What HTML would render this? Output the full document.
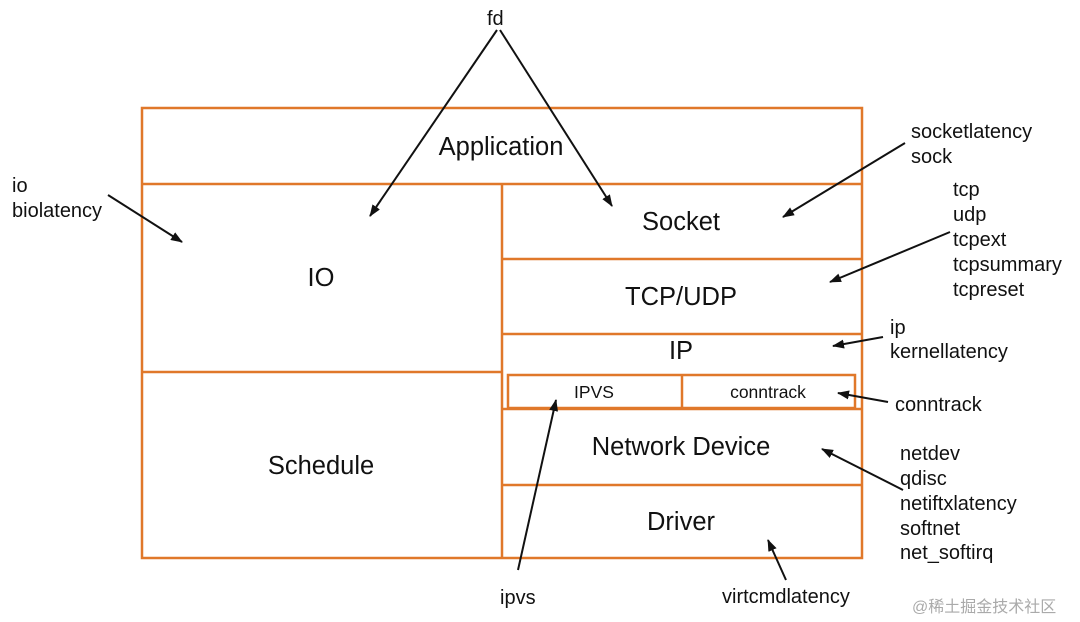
<!DOCTYPE html>
<html><head><meta charset="utf-8"><style>
html,body{margin:0;padding:0;background:#fff;}
svg{display:block;}
text{font-family:"Liberation Sans","Noto Sans CJK SC",sans-serif;fill:#111;}
</style></head><body>
<svg width="1080" height="622" viewBox="0 0 1080 622" xmlns="http://www.w3.org/2000/svg">
<defs><marker id="a" markerWidth="12" markerHeight="9" refX="11" refY="4.5" orient="auto" markerUnits="userSpaceOnUse"><path d="M0,0 L12,4.5 L0,9 z" fill="#111"/></marker></defs>
<g fill="none" stroke="#e0782a" stroke-width="2.5">
<rect x="142" y="108" width="720" height="450"/>
<line x1="142" y1="184" x2="862" y2="184"/>
<line x1="502" y1="184" x2="502" y2="558"/>
<line x1="142" y1="372" x2="502" y2="372"/>
<line x1="502" y1="259" x2="862" y2="259"/>
<line x1="502" y1="334" x2="862" y2="334"/>
<line x1="502" y1="409" x2="862" y2="409"/>
<line x1="502" y1="485" x2="862" y2="485"/>
<rect x="508" y="375" width="347" height="33"/>
<line x1="682" y1="375" x2="682" y2="408"/>
</g>
<g font-size="25.5" text-anchor="middle">
<text x="501" y="155">Application</text>
<text x="321" y="286">IO</text>
<text x="321" y="474">Schedule</text>
<text x="681" y="230">Socket</text>
<text x="681" y="305">TCP/UDP</text>
<text x="681" y="359">IP</text>
<text x="681" y="455">Network Device</text>
<text x="681" y="530">Driver</text>
</g>
<g font-size="17.5" text-anchor="middle">
<text x="594" y="398">IPVS</text>
<text x="768" y="398">conntrack</text>
</g>
<g font-size="20">
<text x="487" y="25">fd</text>
<text x="12" y="192">io</text><text x="12" y="217">biolatency</text>
<text x="911" y="138">socketlatency</text><text x="911" y="163">sock</text>
<text x="953" y="196">tcp</text><text x="953" y="221">udp</text><text x="953" y="246">tcpext</text><text x="953" y="271">tcpsummary</text><text x="953" y="296">tcpreset</text>
<text x="890" y="334">ip</text><text x="890" y="358">kernellatency</text>
<text x="895" y="411">conntrack</text>
<text x="900" y="460">netdev</text><text x="900" y="485">qdisc</text><text x="900" y="510">netiftxlatency</text><text x="900" y="535">softnet</text><text x="900" y="559">net_softirq</text>
<text x="500" y="604">ipvs</text>
<text x="722" y="603">virtcmdlatency</text>
</g>
<text x="912" y="612" font-size="16" style="fill:#aaa">@稀土掘金技术社区</text>
<g stroke="#111" stroke-width="2" marker-end="url(#a)">
<line x1="497" y1="30" x2="370" y2="216"/>
<line x1="500" y1="30" x2="612" y2="206"/>
<line x1="108" y1="195" x2="182" y2="242"/>
<line x1="905" y1="143" x2="783" y2="217"/>
<line x1="950" y1="232" x2="830" y2="282"/>
<line x1="883" y1="337" x2="833" y2="346"/>
<line x1="888" y1="402" x2="838" y2="393"/>
<line x1="903" y1="490" x2="822" y2="449"/>
<line x1="786" y1="580" x2="768" y2="540"/>
<line x1="518" y1="570" x2="556" y2="400"/>
</g>
</svg>
</body></html>
